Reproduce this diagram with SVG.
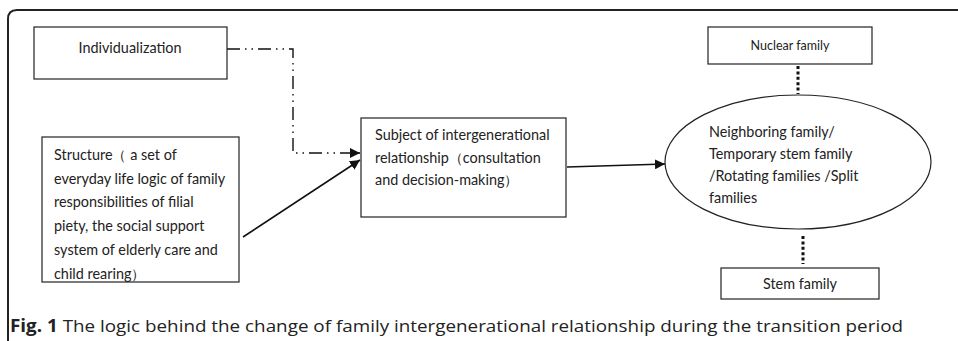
<svg xmlns="http://www.w3.org/2000/svg" width="958" height="341" viewBox="0 0 958 341">
<style>
.box{fill:#fff;stroke:#222;stroke-width:1.2}
.t{font-family:Lato,"Open Sans",sans-serif;font-size:14.4px;fill:#222}
.ln{fill:none;stroke:#111;stroke-width:1.6}
.dd{fill:none;stroke:#111;stroke-width:1.4;stroke-dasharray:13 5 1.5 5 1.5 5}
.dot{fill:none;stroke:#111;stroke-width:3;stroke-dasharray:3 2.4}
.cap{font-family:"Open Sans","Noto Sans",sans-serif;font-size:17px;fill:#222}
</style>
<defs>
<marker id="ah" viewBox="0 0 10 10" refX="10" refY="5" markerWidth="10" markerHeight="10" markerUnits="userSpaceOnUse" orient="auto">
<path d="M0,0 L10,5 L0,10 z" fill="#111"/>
</marker>
</defs>
<rect width="958" height="341" fill="#fff"/>
<path d="M8,341 V19 Q8,10 17,10 H958" fill="none" stroke="#222" stroke-width="2"/>
<g id="connectors">
<polyline class="dd" points="227,49 293,49 293,153 352,153"/>
<path class="ln" d="M352,153 H360" marker-end="url(#ah)"/>
<line class="ln" x1="243" y1="237" x2="360" y2="160" marker-end="url(#ah)"/>
<line class="ln" x1="567" y1="167" x2="665" y2="164" marker-end="url(#ah)"/>
<line class="dot" x1="798" y1="66" x2="798" y2="94"/>
<line class="dot" x1="803" y1="236" x2="803" y2="264"/>
</g>
<g id="individualization">
<rect class="box" x="34" y="27" width="193" height="52"/>
<text class="t" x="130" y="53" text-anchor="middle">Individualization</text>
</g>
<g id="structure">
<rect class="box" x="42" y="137" width="197" height="145"/>
<text class="t" x="54"><tspan x="54" y="160">Structure（ a set of</tspan><tspan x="54" y="184">everyday life logic of family</tspan><tspan x="54" y="207">responsibilities of filial</tspan><tspan x="54" y="231">piety, the social support</tspan><tspan x="54" y="255">system of elderly care and</tspan><tspan x="54" y="279">child rearing）</tspan></text>
</g>
<g id="subject">
<rect class="box" x="361" y="118" width="205" height="99"/>
<text class="t"><tspan x="375" y="140">Subject of intergenerational</tspan><tspan x="375" y="163">relationship（consultation</tspan><tspan x="375" y="185">and decision-making）</tspan></text>
</g>
<g id="neighboring">
<ellipse cx="798" cy="162" rx="133" ry="67" fill="#fff" stroke="#222" stroke-width="1.2"/>
<text class="t"><tspan x="709" y="137">Neighboring family/</tspan><tspan x="709" y="159">Temporary stem family</tspan><tspan x="709" y="181">/Rotating families /Split</tspan><tspan x="709" y="203">families</tspan></text>
</g>
<g id="nuclear">
<rect class="box" x="708" y="27" width="164" height="37"/>
<text class="t" x="790" y="50" text-anchor="middle" style="font-size:12.5px">Nuclear family</text>
</g>
<g id="stem">
<rect class="box" x="721" y="268" width="158" height="31"/>
<text class="t" x="800" y="289" text-anchor="middle">Stem family</text>
</g>
<text class="cap" x="10" y="332" textLength="893" lengthAdjust="spacingAndGlyphs"><tspan font-weight="bold">Fig. 1</tspan> The logic behind the change of family intergenerational relationship during the transition period</text>
</svg>
